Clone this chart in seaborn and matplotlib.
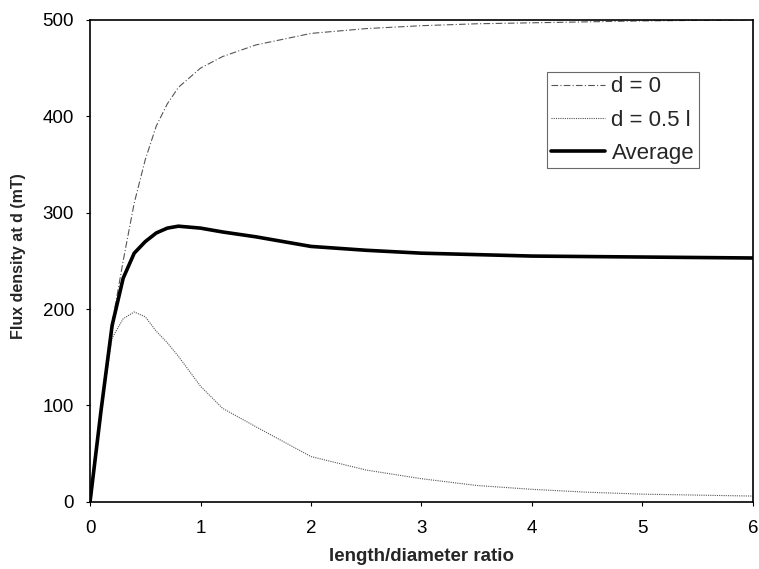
import matplotlib
matplotlib.use("Agg")
import matplotlib.pyplot as plt
import seaborn as sns

# ============================================================
# Data
# ============================================================

ratio = [0, 0.1, 0.2, 0.3, 0.4, 0.5, 0.6, 0.7, 0.8, 1.0, 1.2, 1.5,
         2.0, 2.5, 3.0, 3.5, 4.0, 4.5, 5.0, 5.5, 6.0]

flux_d0 = [0, 95, 185, 250, 310, 355, 390, 413, 430, 450, 462, 474,
           486, 491, 494, 496, 497, 498, 499, 499.5, 500]

flux_half = [0, 95, 170, 190, 197, 192, 177, 165, 151, 120, 97, 78,
             47, 33, 24, 17, 13, 10, 8, 7, 6]

flux_avg = [0, 95, 183, 232, 258, 270, 279, 284, 286, 284, 280, 275,
            265, 261, 258, 256.5, 255, 254.5, 254, 253.5, 253]

# ============================================================
# Theme
# ============================================================

sns.set_theme(style="white")
plt.rcParams["font.family"] = ["Liberation Sans", "DejaVu Sans"]

fig, ax = plt.subplots(figsize=(7.59, 5.69), dpi=100)
fig.subplots_adjust(left=0.1186, right=0.992, top=0.965, bottom=0.118)

sns.lineplot(x=ratio, y=flux_d0, ax=ax, color="#555555", linewidth=0.8,
             linestyle=(0, (6, 2, 1, 2)), label="d = 0")
sns.lineplot(x=ratio, y=flux_half, ax=ax, color="#555555", linewidth=0.8,
             linestyle=(0, (1, 1)), label="d = 0.5 l")
sns.lineplot(x=ratio, y=flux_avg, ax=ax, color="black", linewidth=2.6,
             label="Average")

ax.set_xlim(0, 6)
ax.set_ylim(0, 500)
ax.set_xticks(range(0, 7))
ax.set_yticks(range(0, 501, 100))

for spine in ax.spines.values():
    spine.set_visible(True)
    spine.set_color("black")
    spine.set_linewidth(1.2)

ax.tick_params(axis="both", which="both", direction="out", length=3,
               width=0.8, color="black", labelsize=13.5, labelcolor="black",
               left=True, bottom=True)
ax.tick_params(axis="y", pad=8.5)
ax.tick_params(axis="x", pad=10)

ax.set_xlabel("length/diameter ratio", fontsize=13.5, fontweight="bold",
              labelpad=8)
ax.set_ylabel("Flux density at d (mT)", fontsize=11.5, fontweight="bold",
              labelpad=12)
ax.yaxis.label.set_y(0.51)

leg = ax.legend(loc="upper right", bbox_to_anchor=(0.918, 0.892),
                fontsize=16, frameon=True, fancybox=False, shadow=False,
                handlelength=2.4, handletextpad=0.3, borderpad=0.2,
                labelspacing=0.55, borderaxespad=0)
leg.get_frame().set_edgecolor("#444444")
leg.get_frame().set_linewidth(0.8)

fig.savefig("out.png", dpi=100)
plt.close()
